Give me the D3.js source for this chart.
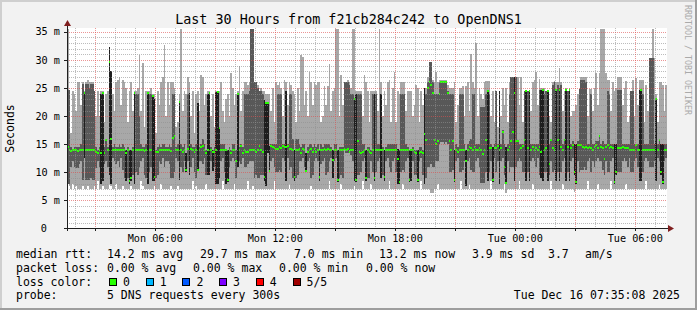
<!DOCTYPE html>
<html>
<head>
<meta charset="utf-8">
<script src="https://cdn.jsdelivr.net/npm/d3@7"></script>
<style>
  html, body { margin: 0; padding: 0; background: #f2f2f2; }
  svg { display: block; }
  text { font-family: "DejaVu Sans Mono", monospace; fill: #000; }
</style>
</head>
<body>
<script>
// smoke columns, one per 5 minute step (ms). lo/hi = outer smoke, dlo/dhi = inner smoke
const lo = [
  8,7.5,7,8,7,7.5,7,7,7,7.5, 7,7,7.5,7,7,7,7.5,7,8.5,7,
  7,7.5,7,7,7,8,7.5,7,7,8, 7,7,7,7.5,7,7,7,7,7.5,7,
  7,7,7,7,8.5,7.5,7,7,7,7, 7,7,7.5,7,7,7,8,7,7,7,
  7,7,7.5,7,7,7,7.5,7,7,7, 7,7,7,7,7,8.5,7,7.5,7,7,
  7,7,7,8,7,7,7,7,7,7, 7,7,7,8.5,7,7,7,7,7,7,
  8,7,7,7,7,7,7,7,8.5,7, 7,7.5,7,7,7,7,7,7,7,7,
  7,7,7,7,8.5,7,7,7,7,7, 7,7,7,8,7,7,7,7,7,7,
  7,7,7,7,7,7,7.5,7,7,7, 7,7,7,7,7,7,7,8.5,7,7,
  7,7,7,7,8,7,7,7,7,7, 7,7,7.5,7,7,7,7,8.5,7,7,
  7,7,8,7,7,7,7,7,7,7, 7,7,7,8.5,7,7,7,7,7,7,
  7,8,7,7,7,7,7,7,7,7, 7,7,8.5,7,7,7,7,7,6.3,6.3,
  7,7,8,7,7,7.1,7.1,7,7,7, 7,7,7,7,7,7,8.5,7,7,7,
  7,8,7,7,7,7,7,7,7,7, 7,7,7,7,8.5,7,7,7,7,7,
  7,7,8,6.3,7,7,7,7,7,7, 7,8.5,7,7,7,7,7,7,7,8,
  7,7,7,7,7,7,7,7,7,7, 8.5,7,7,7,7,7,7,8,7,7,
  7,7,7,7,6.5,7,7,7,7,7, 7,7,8.5,7,7,7,7,7,8,7,
  7,7,7,7,7,7,8.5,7,7,7, 7,7,7,7,7,8,7,7,7,7,
  7,7,7,7,7,7,7,8.5,7,7, 7,7,7,7,7,8,7,7,7,7
];
const dlo = [
  8,8,11,12,11,10.7,10.7,11.5,12,8.6, 12.5,8.6,8.6,8.6,9,8.6,8.6,10.7,12,11,
  8,8.5,11.5,12,11,9.5,8,12.5,12,11.5, 12,11,12.5,10.5,9,8.5,9,8,8.5,9.5,
  8,10,9.5,11,12,12.5,9.5,9,8,10, 11,8.5,8.5,9,9.5,12,11.5,12.5,11,12,
  12,11.5,9,9,10,12.5,12,8.6,11,10, 12,10,12,9.5,11,12.5,10,9,10.5,12,
  12,11.5,12.5,9.5,9.5,9.5,12,10.3,11,8, 8,9,12,12.5,10,8,8.2,11,12,12.5,
  12,9,11,12,11.5,12.5,11,11,11.5,12, 12,12,9,9.5,9,9,9.5,9.5,8.4,7.5,
  13.5,10.3,12,12.5,11,10,10,10.5,10,12.5, 12,8.5,12.5,10.5,11,9,8.5,9,9.5,12,
  12,12.5,11,10.2,12,12.5,9,9.5,12,12.5, 12,8.5,11.5,12,12.5,9.5,10,12,12.5,9,
  12,12.5,8.3,9,9.5,9,14,13.5,13.5,14, 13,12,8.5,8.3,9.5,9.5,10,12,12.5,8.5,
  9,9,12,10,8.5,10,12,12.5,9,9.5, 8.5,12,12.5,11,10,12,12.5,10,8,8,
  10,10.5,10,12,12.5,8.3,8.5,12,9.5,9.5, 8.3,12,12.5,9.5,8,9,11,11,11.5,11,
  11,12,12,15,15.4,15.4,15,15.4,15,10, 10,10.5,8.3,12,12.5,10,10,10.5,12,7.5,
  12,12.5,10.5,10,10,12,12.5,11,8.1,8.1, 8.1,10,8.5,10,12,8.3,12.5,10,12,8,
  12,12.5,9.5,8,12,10,11,11,8.5,11, 12,12.5,12,10,10,8.5,10,8.5,12,12.5,
  12,11,12.5,9.5,9,8.5,10,10,8.5,9.5, 12,10,10.5,8.5,10,8.5,10,12,12.5,8.5,
  10,8.5,12,12.5,9.5,8,12,10,10.5,10.5, 11,10.5,12,12.5,10,12,11,12,12.5,12,
  12,10.5,9.5,12,10,10,12,12.5,8,9.5, 10,10,10,12,12.5,12,11,12.5,10,10,
  12,12.5,11,8.5,8.5,10,12,12.5,12,11, 11,11,12,8.5,12.5,12,9.5,8,12,12.5
];
const med = [
  14.5,14,13.8,13.9,14,14,13.8,14,14,14, 24.2,14,14,14,14,14,14,13.6,13.5,14,
  13.5,24.2,13.5,15.7,14,29.7,16,14,14,14, 14,14,14,14,14,13.4,14,8.5,9,14,
  24.2,14,14,14,14,14,13.8,14,24.2,14, 14,23.5,9.1,13.7,13.7,14,14,14,14,14,
  14,14,13.8,16.1,16.4,14,14,22.5,13.9,13.6, 14,10.5,14.2,14.8,14.2,13.9,13.7,14,10.5,13.9,
  14.5,14.7,14,13.4,14,24.2,13.9,13.6,13.7,14, 24.3,17.9,14,14,14,14,8.6,14,13.4,14,
  14,12.1,24,14,14.6,13.4,13.9,13.7,13.7,14, 14,14,14,13.7,14,14.6,14,13.7,9.1,22.3,
  22.3,10.3,14.6,14.5,14.3,14.2,14.2,14.5,14.3,14.6, 14.5,14.5,14.6,14.2,14.2,13.9,9.1,13.9,14,14.2,
  13.4,14.2,14,10.2,13.7,14,14.2,13.7,14.2,13.7, 14,9.1,14,14,14.2,14,14.2,14,14,12.2,
  14,14,8.6,14,14,14,14.2,14,14.2,13.7, 14,14,23.1,8.6,15.6,13.7,13.4,13.7,14,9,
  14,13.7,13.4,14,9,14,14,14,14,14, 9.1,14,14,13.9,14,14,14,14,12.3,8.2,
  14,14,14,14,14,8.6,13.9,14,13.6,13.5, 8.6,13.5,13.6,13.5,16.8,15.7,25,26,25.5,24.2,
  15.7,15,15.5,24,26,26,26,26,24.2,15.6, 14,15.6,8.6,14,13.6,14,14,14,14,12.1,
  14,14.5,14.3,14,14.5,14,14,14.3,14,13.3, 14,15.8,24.5,14.3,14.3,8.6,14.3,14.3,14.6,14,
  14.3,17.2,11,8.1,14,14.5,15.6,17.2,24.1,15.6, 15.6,13.9,14.3,14.6,15.8,24.4,14.3,24.4,14,14.5,
  14,14.3,14,14.5,13.6,24.7,14,14.3,24.4,11.5, 15.8,14.3,14,24.7,15.8,24.7,14.5,14,15.8,24.7,
  14.5,24.7,14.3,14.9,10,8.2,14.9,14.9,14.9,14.5, 14.3,14.5,14.3,14.5,14.3,13.9,14.5,14.9,14.3,16.4,
  14.5,14.3,12.3,14.5,14.9,14.3,14.5,14.3,8.2,10.1, 14.3,14.3,14.3,14.5,14.3,14.3,14.3,13.9,13.9,13.9,
  13.9,14.9,13.9,14,24.7,13.9,13.9,14,13.9,14, 13.9,14,14,23.1,14,15.8,10.1,8.3,13.9,14
];
const dhi = [
  24.6,24.6,14.5,14,14.5,14.5,14.5,14.5,15,25.8, 24.2,25.8,25.8,25,25.8,25.8,24.5,14.5,14,14.5,
  24,24.2,14.5,16,14.5,32.3,28,14.5,15,14.5, 14.5,15,14.5,15,14.5,14,14.5,14,14,14.5,
  24.2,24,24,20,15,14.5,14.5,15,24.2,24, 24,23.5,23,14,14.5,15,14.5,15,15,14.5,
  14.5,15,14.5,24,24,14.5,15,22.5,15,14.5, 15,13.5,24,24.2,15,14.5,14.5,15,22.3,14.5,
  15,16,15,14,24,24.2,14.5,14,14.5,24.3, 24.3,18,15,15,15,14.2,14,14.5,14,15,
  15,14,24,14.5,15,14.5,24,24,24,24.5, 35.6,35.6,26,26,25,24.5,24.5,24,22.8,22.3,
  22.3,14.6,15,15,15,15,24,24,24,15, 15,24.5,15,24,24,16,14,16,16,15,
  14.5,15,15,13.4,14.5,15,15,14.5,15,14.5, 15,14,15,14.5,15,15,15,15,14.5,14,
  15,15,14,14.5,14.5,14.5,26,26,26,25.5, 24,24,23.1,24,24,24,24,15,15,14,
  14.5,14.5,14,24,24,24,15,15,24,14.5, 14,14.5,15,15,15,15,15,15,14.2,14,
  24,24,24,15,14.5,14,14,14.5,14,14, 14,14.5,14.5,14,25,24,26,29.7,29.7,26,
  24,24,24,26,26,26,26,26,24.5,24, 24,24,14,15,14.5,24,24,24,15,14,
  15,15.5,16,24,24,15,15,15,21.7,21.7, 21.7,24,24.7,24,15,14.5,15,24.4,15,24.4,
  15,17.5,15,14.5,15,24,27,27,27,27, 15.8,15,15,15,24.4,24.4,24.4,24.4,15,15,
  15,15,15,24.7,24.7,24.7,24,24.4,24.4,15, 16,25.5,26,24.7,25.5,25,25.5,15,16,24.7,
  24.4,24.7,15,15.5,15,15,15.5,24.8,26.5,26.5, 26.5,26,15,15,24,15,15,15.5,15.5,16.5,
  15,15.5,15,15,24.5,24,15,15,15,15, 24.7,24.7,24.7,15,15,15,15,15,24.4,24.4,
  15,15,15,24.7,24.7,24,15,15,15,30.3, 30.3,30.3,15,23.1,15,16,15,15,15,15
];
const hi = [
  35.6,24.5,17,24.5,24,21,26,26,22,26, 24.5,26,26.5,26,26,26,24.5,20,24.5,20,
  24.5,24.5,19,24,24.5,32.3,28,24,21,26, 26.5,27,22,26.5,26,25,19,24.5,26,21,
  24.5,24.5,25,30.9,21,29.5,18,24.5,24.5,24.5, 25,24,24,17,24.5,22,26,27,32.6,20,
  26,22,26,26,25,18,19,24,35.6,21, 24.5,24,26.9,26,20,24.5,17,24,24.5,21,
  27.3,27,22,24,24.5,24.5,20,24,18,24.5, 24.5,24.5,26,21,19,23,24,20,27.7,25,
  22,24,24.5,28.9,21,24.5,26,26,25.5,26, 35.6,35.6,26,26,25.5,24.5,25,24.5,24.5,24,
  24,24,21,25,19,26,25.5,26,25,20, 26.4,26,22,26,25.5,24.5,24,19,25,21,
  30.9,30.5,22,24.5,20,27.8,26,22,26,25.5, 26,26,19,20,25.3,22,25.3,29.2,21,24.5,
  25,35.6,35.6,20,27.3,22,26,26,26.5,26, 25,35.6,35.6,24.5,24.5,24.5,24.5,20,27.3,26,
  24.5,19,24.5,24.5,24.5,24.5,21,35.6,26,20, 24.5,22,26,26.5,19,25,27.8,19,24.5,24,
  26,26,26,21,24.5,24.5,24.5,20,22,25.5, 25,19,24.5,22,25,25,27,29.7,29.7,26.5,
  26,27.8,26,26.5,26.5,26.5,26.5,26.5,25.5,25, 25,25,26,19,22,25,25,25.3,20,25.3,
  26,21,31,26,25,33,20,25,24,23, 26,26.2,26.2,26.2,20,24.5,19,24.4,18,24.4,
  20,25,22,25,19,26,27,27,27,27, 27,22,27,19,24.4,24.5,24.4,24.5,21,26,
  26.5,27.9,22,26.7,25,25,25,24.4,24.5,20, 19,26,26.2,26,26,28.6,26,21,24.5,25,
  24.5,25,20,21,21,22,24,24.8,27,27, 27,27,20,24.8,24.8,21,25,27.6,22,27.6,
  35.6,35.6,35.6,27.6,26.5,26.5,21,26,24.5,25, 27,27,27,22,25,26.2,19,20,24.5,26.5,
  20,26.8,22,26.5,26.5,26.5,19,25.5,21,30.3, 30.3,35.6,30.3,24,19,26,26,25.5,21,25.5
];
// steps whose inner smoke is drawn nearly black
const blackSteps = [10,20,21,25,26,35,37,38,40,48,51,52,67,71,73,78,84,85,87,89,90,91,95,96,
  102,118,119,120,121,131,136,143,151,159,162,172,173,179,184,188,190,198,199,205,206,210,214,
  232,239,252,255,259,263,268,275,277,284,285,288,293,295,299,301,304,305,328,329,343,344,353,356,357];

const yTicks = [5, 10, 15, 20, 25, 30, 35];
const lossLabels = ["0", "1", "2", "3", "4", "5/5"];
const lossColors = ["#26ff00", "#00b8ff", "#0059ff", "#7e00ff", "#ff0000", "#a00000"];

const W = 697, H = 310;
const endTime = new Date(2025, 11, 16, 7, 35, 8);
const startTime = new Date(endTime.getTime() - 30 * 3600 * 1000);
const stepMs = 300 * 1000;
const n = med.length;

const x = d3.scaleTime().domain([startTime, endTime]).range([67, 667]);
const y = d3.scaleLinear().domain([0, 35.6]).range([228.5, 28.5]);
const xs = i => x(new Date(startTime.getTime() + i * stepMs));

const svg = d3.select("body").append("svg")
  .attr("width", W).attr("height", H);

// canvas + 3d frame
svg.append("rect").attr("width", W).attr("height", H).attr("fill", "#f2f2f2");
svg.append("rect").attr("x", 0).attr("y", 0).attr("width", W).attr("height", 2).attr("fill", "#cfcfcf");
svg.append("rect").attr("x", 0).attr("y", 0).attr("width", 2).attr("height", H).attr("fill", "#cfcfcf");
svg.append("rect").attr("x", 0).attr("y", H - 2).attr("width", W).attr("height", 2).attr("fill", "#9e9e9e");
svg.append("rect").attr("x", W - 2).attr("y", 0).attr("width", 2).attr("height", H).attr("fill", "#9e9e9e");

// plot area
svg.append("rect").attr("x", 67).attr("y", 28)
  .attr("width", 600).attr("height", 201).attr("fill", "#fff");

const plot = svg.append("g");
const ext = d3.range(n + 1);
const clampI = i => Math.min(i, n - 1);

const band = (a, b) => d3.area()
  .curve(d3.curveStepAfter)
  .x(i => xs(i))
  .y0(i => y(a[clampI(i)]))
  .y1(i => y(b[clampI(i)]));

plot.append("path").datum(ext)
  .attr("d", band(lo, hi))
  .attr("fill", "#a8a8a8")
  .attr("shape-rendering", "crispEdges");

plot.append("path").datum(ext)
  .attr("d", band(dlo, dhi))
  .attr("fill", "#585858")
  .attr("shape-rendering", "crispEdges");

plot.selectAll("rect.blk")
  .data(blackSteps)
  .join("rect")
    .attr("class", "blk")
    .attr("x", i => xs(i))
    .attr("width", i => xs(i + 1) - xs(i))
    .attr("y", i => y(dhi[i]))
    .attr("height", i => y(dlo[i]) - y(dhi[i]))
    .attr("fill", "#1e1e1e")
    .attr("shape-rendering", "crispEdges");

// grid (drawn over the smoke like rrdtool does)
const grid = svg.append("g").attr("stroke-dasharray", "1,1").attr("fill", "none");
const minorY = d3.range(1, 36).filter(v => v % 5 !== 0);
grid.selectAll("line.ym")
  .data(minorY)
  .join("line")
    .attr("x1", 67).attr("x2", 667)
    .attr("y1", v => Math.round(y(v)) + 0.5).attr("y2", v => Math.round(y(v)) + 0.5)
    .attr("stroke", "rgba(143,143,143,0.6)");

const hours = x.ticks(d3.timeHour.every(1));
grid.selectAll("line.xm")
  .data(hours.filter(d => d.getHours() % 3 !== 0))
  .join("line")
    .attr("x1", d => Math.round(x(d)) + 0.5).attr("x2", d => Math.round(x(d)) + 0.5)
    .attr("y1", 28).attr("y2", 228)
    .attr("stroke", "rgba(143,143,143,0.6)");

grid.selectAll("line.yM")
  .data(yTicks)
  .join("line")
    .attr("x1", 67).attr("x2", 667)
    .attr("y1", v => Math.round(y(v)) + 0.5).attr("y2", v => Math.round(y(v)) + 0.5)
    .attr("stroke", "rgba(222,79,79,0.6)");

grid.selectAll("line.xM")
  .data(hours.filter(d => d.getHours() % 3 === 0))
  .join("line")
    .attr("x1", d => Math.round(x(d)) + 0.5).attr("x2", d => Math.round(x(d)) + 0.5)
    .attr("y1", 28).attr("y2", 228)
    .attr("stroke", "rgba(222,79,79,0.6)");

// median, coloured by loss (all 0 here)
plot.selectAll("rect.med")
  .data(d3.range(n))
  .join("rect")
    .attr("class", "med")
    .attr("x", i => xs(i))
    .attr("width", i => xs(i + 1) - xs(i))
    .attr("y", i => y(med[i]) - 1)
    .attr("height", 2)
    .attr("fill", lossColors[0])
    .attr("shape-rendering", "crispEdges");

// axes
const axis = svg.append("g").attr("stroke", "#1f1f1f").attr("shape-rendering", "crispEdges");
axis.append("line").attr("x1", 64).attr("x2", 670).attr("y1", 228.5).attr("y2", 228.5);
axis.append("line").attr("x1", 67.5).attr("x2", 67.5).attr("y1", 231).attr("y2", 25);
axis.selectAll("line.yt")
  .data(yTicks)
  .join("line")
    .attr("x1", 64).attr("x2", 67)
    .attr("y1", v => Math.round(y(v)) + 0.5).attr("y2", v => Math.round(y(v)) + 0.5);
axis.selectAll("line.xt")
  .data(hours.filter(d => d.getHours() % 3 === 0))
  .join("line")
    .attr("x1", d => Math.round(x(d)) + 0.5).attr("x2", d => Math.round(x(d)) + 0.5)
    .attr("y1", 229).attr("y2", 231);

svg.append("path").attr("d", "M64,26L71,26L67.5,20Z").attr("fill", "#801f1f");
svg.append("path").attr("d", "M668,225L668,232L674,228.5Z").attr("fill", "#801f1f");

// axis labels
svg.selectAll("text.yl")
  .data([0].concat(yTicks))
  .join("text")
    .attr("x", v => v === 0 ? 47 : 60)
    .attr("y", v => y(v) + 3.6)
    .attr("text-anchor", "end")
    .style("font-size", "10.2px")
    .text(v => v === 0 ? "0" : v + " m");

const fmt = d3.timeFormat("%a %H:%M");
svg.selectAll("text.xl")
  .data(hours.filter(d => d.getHours() % 6 === 0))
  .join("text")
    .attr("x", d => x(d))
    .attr("y", 241.5)
    .attr("text-anchor", "middle")
    .style("font-size", "10.2px")
    .text(d => fmt(d));

svg.append("text")
  .attr("x", 348.5).attr("y", 24)
  .attr("text-anchor", "middle")
  .style("font-size", "13.4px")
  .text("Last 30 Hours from f21cb284c242 to OpenDNS1");

svg.append("text")
  .attr("transform", "translate(13.5,128.5) rotate(-90)")
  .attr("text-anchor", "middle")
  .style("font-size", "11.5px")
  .text("Seconds");

svg.append("text")
  .attr("transform", "translate(685,5) rotate(90)")
  .style("font-size", "8.3px")
  .style("fill", "#aaaaaa")
  .text("RRDTOOL / TOBI OETIKER");

// legend
const legendRows = [
  { y: 258.3, parts: [[16, "median rtt:"], [107, "14.2 ms avg"], [200, "29.7 ms max"], [294, "7.0 ms min"],
                      [379, "13.2 ms now"], [472, "3.9 ms sd"], [548, "3.7"], [585, "am/s"]] },
  { y: 271.9, parts: [[16, "packet loss:"], [107, "0.00 % avg"], [193, "0.00 % max"], [279, "0.00 % min"], [366, "0.00 % now"]] },
  { y: 285.6, parts: [[16, "loss color:"]] },
  { y: 299.2, parts: [[16, "probe:"], [107, "5 DNS requests every 300s"]] }
];
const leg = svg.append("g").style("font-size", "11.5px");
legendRows.forEach(r => {
  const t = leg.append("text").attr("y", r.y);
  r.parts.forEach(p => t.append("tspan").attr("x", p[0]).text(p[1]));
});
leg.append("text").attr("x", 680).attr("y", 299.2).attr("text-anchor", "end")
  .text("Tue Dec 16 07:35:08 2025");

const lossG = leg.selectAll("g.loss")
  .data(lossLabels)
  .join("g")
    .attr("transform", (d, i) => `translate(${109 + i * 36.7},278)`);
lossG.append("rect")
  .attr("x", 0.5).attr("y", 0.5).attr("width", 7).attr("height", 7)
  .attr("fill", (d, i) => lossColors[i])
  .attr("stroke", "#000").attr("shape-rendering", "crispEdges");
lossG.append("text")
  .attr("x", 14).attr("y", 7.6)
  .text(d => d);
</script>
</body>
</html>
